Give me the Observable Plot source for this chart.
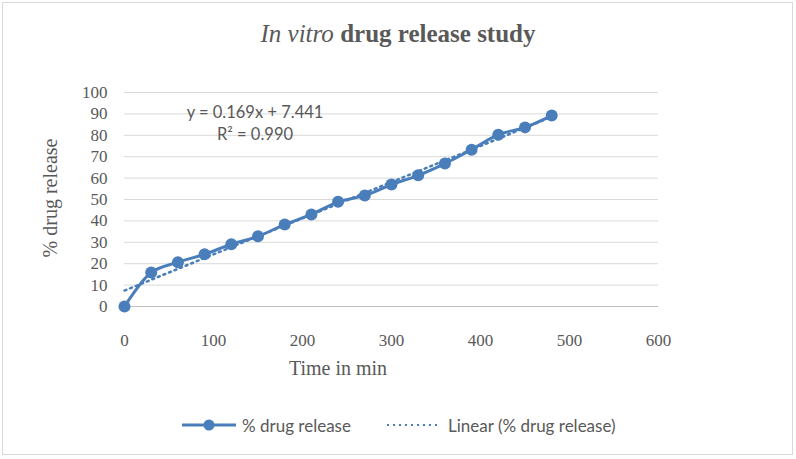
<!DOCTYPE html>
<html>
<head>
<meta charset="utf-8">
<script src="https://cdn.jsdelivr.net/npm/d3@7"></script>
<script src="https://cdn.jsdelivr.net/npm/@observablehq/plot@0.6"></script>
<style>
  html, body { margin: 0; padding: 0; background: #fff; }
  #wrap { position: relative; width: 796px; height: 459px; overflow: hidden; background: #fff; }
  #border { position: absolute; left: 2px; top: 2px; width: 791px; height: 453px; box-sizing: border-box; border: 1.5px solid #d9d9d9; }
  #chart { position: absolute; left: 0; top: 0; }
  .t { position: absolute; white-space: nowrap; color: #595959; }
  #title { left: 0; width: 796px; top: 21px; text-align: center; font: 25px/25px "Liberation Serif", serif; }
  #title b { font-weight: bold; }
  #xlab { left: 338px; top: 358px; transform: translateX(-50%); font: 20px/20px "Liberation Serif", serif; }
  #ylab { left: 50px; top: 198px; transform: translate(-50%, -50%) rotate(-90deg); font: 20px/20px "Liberation Serif", serif; }
  .eq { left: 255px; transform: translateX(-50%); font: 16.5px/16.5px Lato, sans-serif; }
  #legend { position: absolute; left: 0; top: 415px; width: 796px; height: 22px; font: 17px/17px Lato, sans-serif; color: #595959; }
</style>
</head>
<body>
<div id="wrap">
  <div id="border"></div>
  <div id="chart"></div>
  <div id="title" class="t"><i>In vitro</i> <b>drug release study</b></div>
  <div id="xlab" class="t">Time in min</div>
  <div id="ylab" class="t">% drug release</div>
  <div id="eq1" class="t eq" style="top:104px">y = 0.169x + 7.441</div>
  <div id="eq2" class="t eq" style="top:126px">R² = 0.990</div>
  <div id="legend"></div>
</div>
<script>
// Data
const time = [0, 30, 60, 90, 120, 150, 180, 210, 240, 270, 300, 330, 360, 390, 420, 450, 480];
const release = [0, 15.9, 20.7, 24.4, 29.1, 32.8, 38.3, 43.0, 48.9, 51.9, 57.0, 61.3, 66.8, 73.3, 80.3, 83.7, 89.2];
const xTicks = [0, 100, 200, 300, 400, 500, 600];
const yTicks = [0, 10, 20, 30, 40, 50, 60, 70, 80, 90, 100];
const slope = 0.169;
const intercept = 7.441;
const seriesName = "% drug release";
const trendName = "Linear (% drug release)";

const color = "#4a7ebb";
const data = time.map((t, i) => ({t, r: release[i]}));
const tMin = d3.min(time), tMax = d3.max(time);
const trend = [tMin, tMax].map(t => ({t, r: slope * t + intercept}));

const chart = Plot.plot({
  width: 796,
  height: 400,
  marginLeft: 124,
  marginRight: 138,
  marginTop: 92,
  marginBottom: 94,
  x: {domain: [0, 600]},
  y: {domain: [0, 100]},
  style: {fontFamily: "'Liberation Serif', serif", fontSize: "17px", color: "#595959", background: "transparent"},
  marks: [
    Plot.gridY(yTicks.filter(d => d > 0), {stroke: "#d9d9d9", strokeOpacity: 1, strokeWidth: 1}),
    Plot.ruleY([0], {stroke: "#bfbfbf", strokeWidth: 1}),
    Plot.axisX({ticks: xTicks, tickSize: 0, tickPadding: 27, label: null, fill: "#595959"}),
    Plot.axisY({ticks: yTicks, tickSize: 0, tickPadding: 17, label: null, fill: "#595959"}),
    Plot.line(trend, {x: "t", y: "r", stroke: color, strokeWidth: 2.5, strokeDasharray: "2,4"}),
    Plot.line(data, {x: "t", y: "r", stroke: color, strokeWidth: 3, curve: "catmull-rom"}),
    Plot.dot(data, {x: "t", y: "r", r: 6, fill: color, stroke: "none"})
  ]
});
document.getElementById("chart").appendChild(chart);

// Legend
const lg = document.getElementById("legend");
lg.innerHTML = `
  <svg width="60" height="20" style="position:absolute;left:180px;top:0">
    <line x1="2" y1="10" x2="56" y2="10" stroke="${color}" stroke-width="3"/>
    <circle cx="29" cy="10" r="5.5" fill="${color}"/>
  </svg>
  <span class="t" style="left:242px;top:2px">${seriesName}</span>
  <svg width="56" height="20" style="position:absolute;left:385px;top:0">
    <line x1="2" y1="10" x2="53" y2="10" stroke="${color}" stroke-width="2" stroke-dasharray="2,4"/>
  </svg>
  <span class="t" style="left:448px;top:2px">${trendName}</span>`;
</script>
</body>
</html>
